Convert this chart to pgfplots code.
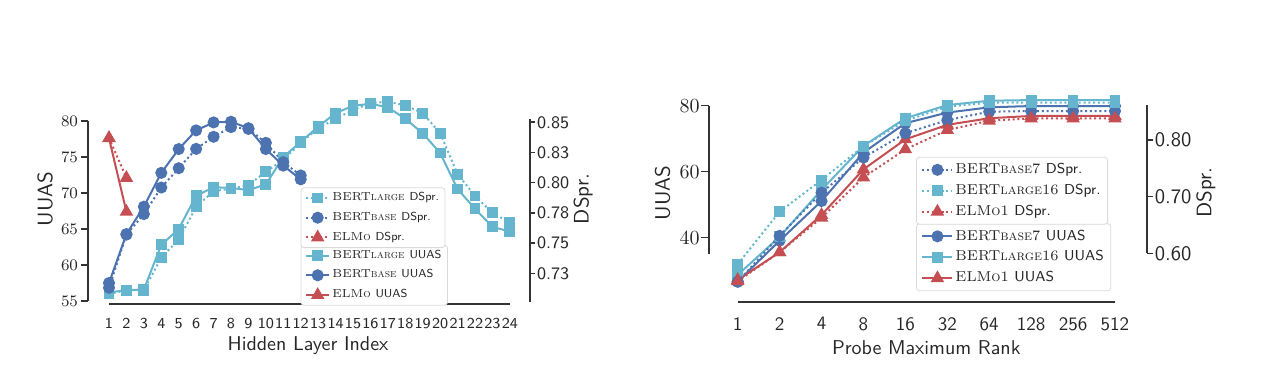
\documentclass[border=0pt]{standalone}
\usepackage{pgfplots}
\pgfplotsset{compat=1.18}
\definecolor{cblue}{HTML}{4C72B0}
\definecolor{ccyan}{HTML}{64B5CD}
\definecolor{cred}{HTML}{C44E52}
\definecolor{spinec}{HTML}{333333}
\definecolor{txtc}{HTML}{262626}
\pgfplotsset{
  uu/.style={line width=1pt},
  ds/.style={line width=1pt, dash pattern=on 1pt off 1.4pt},
  mlarge/.style={color=ccyan, mark=square*, mark size=2.2pt, mark options={solid, fill=ccyan, draw=ccyan}},
  mbase/.style={color=cblue, mark=*, mark size=2.5pt, mark options={solid, fill=cblue, draw=cblue}},
  melmo/.style={color=cred, mark=triangle*, mark size=2.9pt, mark options={solid, fill=cred, draw=cred}},
  panel/.style={scale only axis, anchor=south west, clip=false,
    axis line style={draw=none}, tick align=outside,
    ytick style={draw=spinec, line width=0.8pt},
    xtick style={draw=none},
    every tick label/.append style={text=txtc},
    label style={text=txtc}},
  legL/.style={legend style={anchor=north west, draw=black!15, fill=white, rounded corners=1.5pt,
    font=\fontsize{5.8}{7}\selectfont, text=txtc, inner xsep=2pt, inner ysep=1.3pt,
    nodes={inner sep=1pt, text depth=0.15em}, /tikz/row sep=2.2pt}, legend cell align=left,
    legend image code/.code={\draw[mark repeat=2,mark phase=2,##1] plot coordinates {(0pt,0pt) (5.85pt,0pt) (11.7pt,0pt)};}},
  legR/.style={legend style={anchor=north west, draw=black!15, fill=white, rounded corners=1.5pt,
    font=\fontsize{7.2}{8.6}\selectfont, text=txtc, inner xsep=2.5pt, inner ysep=2pt,
    nodes={inner sep=1pt, text depth=0.15em}, /tikz/row sep=1.8pt}, legend cell align=left,
    legend image code/.code={\draw[mark repeat=2,mark phase=2,##1] plot coordinates {(0pt,0pt) (7.5pt,0pt) (15pt,0pt)};}},
}
\begin{document}
\begin{tikzpicture}
\path[use as bounding box] (0,0) rectangle (631pt,195pt);

%================ LEFT PANEL: UUAS =================
\begin{axis}[panel, legL,
  at={(44pt,43pt)}, width=221pt, height=102.5pt,
  xmin=-0.2048, xmax=25.154, ymin=54.583, ymax=83.056,
  axis x line*=bottom, axis y line*=left,
  xtick={1,...,24},
  xticklabels={1,2,3,4,5,6,7,8,9,10,11,12,13,14,15,16,17,18,19,20,21,22,23,24},
  xticklabel style={font=\sffamily\fontsize{7.6}{9}\selectfont, inner xsep=0pt, yshift=-0.3pt},
  ytick={55,60,65,70,75,80}, major tick length=3.3pt,
  yticklabel style={font=\fontsize{8}{9}\selectfont, inner xsep=1.5pt},
  xlabel={Hidden Layer Index}, ylabel={UUAS},
  xlabel style={font=\sffamily\fontsize{10}{12}\selectfont, at={(axis description cs:0.4977,-0.205)}, anchor=center},
  ylabel style={font=\sffamily\fontsize{10.5}{12}\selectfont, at={(axis description cs:-0.0973,0.512)}, anchor=center},
  legend style={at={(axis description cs:0.481,0.288)}},
]
\draw[spinec, line width=0.9pt] (axis cs:-0.2048,55) -- (axis cs:-0.2048,80);
\draw[spinec, line width=0.9pt] (axis cs:1,54.583) -- (axis cs:24,54.583);
\addplot[uu, mlarge] coordinates {(1,56.2) (2,56.5) (3,56.6) (4,62.8) (5,65.0) (6,69.6) (7,70.8) (8,70.7) (9,70.4) (10,71.2) (11,75.0) (12,77.1) (13,79.2) (14,81.1) (15,82.1) (16,82.4) (17,81.9) (18,80.3) (19,78.3) (20,75.55) (21,70.55) (22,67.8) (23,65.3) (24,64.65)};
\addlegendentry{BERT\textsc{large} \textsf{UUAS}}
\addplot[uu, mbase] coordinates {(1,57.5) (2,64.3) (3,68.1) (4,72.8) (5,76.1) (6,78.7) (7,79.8) (8,79.9) (9,79.0) (10,76.1) (11,73.8) (12,71.9)};
\addlegendentry{BERT\textsc{base} \textsf{UUAS}}
\addplot[uu, melmo] coordinates {(1,77.6) (2,67.4)};
\addlegendentry{ELM\textsc{o} \textsf{UUAS}}
\end{axis}

%================ LEFT PANEL: DSpr =================
\begin{axis}[panel, legL,
  at={(44pt,43pt)}, width=221pt, height=102.5pt,
  xmin=-0.2048, xmax=25.154, ymin=0.69959, ymax=0.86929,
  axis y line*=right, hide x axis,
  ytick={0.725,0.75,0.775,0.8,0.825,0.85},
  yticklabels={0.73,0.75,0.78,0.80,0.83,0.85}, major tick length=2.5pt,
  yticklabel style={font=\sffamily\fontsize{8.8}{10}\selectfont, inner xsep=0.8pt},
  ylabel={DSpr.},
  ylabel style={font=\sffamily\fontsize{10.5}{12}\selectfont, at={(axis description cs:1.12,0.512)}, anchor=center},
  legend style={at={(axis description cs:0.481,0.569)}},
]
\draw[spinec, line width=0.9pt] (axis cs:25.154,0.7012) -- (axis cs:25.154,0.8525);
\addplot[ds, mlarge] coordinates {(1,0.708) (2,0.711) (3,0.711) (4,0.738) (5,0.753) (6,0.780) (7,0.793) (8,0.795) (9,0.798) (10,0.809) (11,0.819) (12,0.833) (13,0.845) (14,0.853) (15,0.860) (16,0.866) (17,0.867) (18,0.864) (19,0.8575) (20,0.841) (21,0.807) (22,0.789) (23,0.775) (24,0.767)};
\addlegendentry{BERT\textsc{large} \textsf{DSpr.}}
\addplot[ds, mbase] coordinates {(1,0.713) (2,0.757) (3,0.774) (4,0.796) (5,0.812) (6,0.828) (7,0.838) (8,0.846) (9,0.8445) (10,0.833) (11,0.817) (12,0.806)};
\addlegendentry{BERT\textsc{base} \textsf{DSpr.}}
\addplot[ds, melmo] coordinates {(1,0.837) (2,0.804)};
\addlegendentry{ELM\textsc{o} \textsf{DSpr.}}
\end{axis}

%================ RIGHT PANEL: UUAS =================
\begin{axis}[panel, legR,
  at={(354.5pt,43.85pt)}, width=218.85pt, height=103.65pt,
  xmin=-0.6846, xmax=9.757, ymin=20.424, ymax=83.242,
  axis x line*=bottom, axis y line*=left,
  xtick={0,...,9},
  xticklabels={1,2,4,8,16,32,64,128,256,512},
  xticklabel style={font=\sffamily\fontsize{9.5}{11}\selectfont},
  ytick={40,60,80}, major tick length=4pt,
  yticklabel style={font=\fontsize{10}{12}\selectfont, inner xsep=0.5pt},
  xlabel={Probe Maximum Rank}, ylabel={UUAS},
  xlabel style={font=\sffamily\fontsize{10}{12}\selectfont, at={(axis description cs:0.4965,-0.2205)}, anchor=center},
  ylabel style={font=\sffamily\fontsize{10.5}{12}\selectfont, at={(axis description cs:-0.1062,0.527)}, anchor=center},
  legend style={at={(axis description cs:0.473,0.381)}},
]
\draw[spinec, line width=0.9pt] (axis cs:-0.6846,35) -- (axis cs:-0.6846,80);
\draw[spinec, line width=0.9pt] (axis cs:0,20.424) -- (axis cs:9,20.424);
\addplot[uu, mbase] coordinates {(0,26.7) (1,39.1) (2,51.1) (3,65.8) (4,74.7) (5,77.9) (6,79.5) (7,79.9) (8,79.9) (9,79.9)};
\addlegendentry{BERT\textsc{base}7 \textsf{UUAS}}
\addplot[uu, mlarge] coordinates {(0,28.7) (1,40.3) (2,54.5) (3,67.8) (4,76.2) (5,80.2) (6,81.5) (7,81.7) (8,81.7) (9,81.7)};
\addlegendentry{BERT\textsc{large}16 \textsf{UUAS}}
\addplot[uu, melmo] coordinates {(0,27.2) (1,35.6) (2,46.9) (3,60.7) (4,69.8) (5,74.2) (6,76.2) (7,76.9) (8,76.9) (9,76.9)};
\addlegendentry{ELM\textsc{o}1 \textsf{UUAS}}
\end{axis}

%================ RIGHT PANEL: DSpr =================
\begin{axis}[panel, legR,
  at={(354.5pt,43.85pt)}, width=218.85pt, height=103.65pt,
  xmin=-0.6846, xmax=9.757, ymin=0.51376, ymax=0.87937,
  axis y line*=right, hide x axis,
  ytick={0.6,0.7,0.8}, yticklabels={0.60,0.70,0.80}, major tick length=3.3pt,
  yticklabel style={font=\sffamily\fontsize{10.3}{12}\selectfont, inner xsep=0.6pt},
  ylabel={DSpr.},
  ylabel style={font=\sffamily\fontsize{10.5}{12}\selectfont, at={(axis description cs:1.135,0.53)}, anchor=center},
  legend style={at={(axis description cs:0.473,0.702)}},
]
\draw[spinec, line width=0.9pt] (axis cs:9.757,0.60) -- (axis cs:9.757,0.862);
\addplot[ds, mbase] coordinates {(0,0.550) (1,0.631) (2,0.707) (3,0.769) (4,0.812) (5,0.835) (6,0.850) (7,0.851) (8,0.851) (9,0.851)};
\addlegendentry{BERT\textsc{base}7 \textsf{DSpr.}}
\addplot[ds, mlarge] coordinates {(0,0.581) (1,0.6735) (2,0.7295) (3,0.789) (4,0.834) (5,0.8587) (6,0.8658) (7,0.866) (8,0.866) (9,0.866)};
\addlegendentry{BERT\textsc{large}16 \textsf{DSpr.}}
\addplot[ds, melmo] coordinates {(0,0.551) (1,0.602) (2,0.663) (3,0.734) (4,0.7836) (5,0.8176) (6,0.834) (7,0.838) (8,0.838) (9,0.838)};
\addlegendentry{ELM\textsc{o}1 \textsf{DSpr.}}
\end{axis}
\end{tikzpicture}
\end{document}
